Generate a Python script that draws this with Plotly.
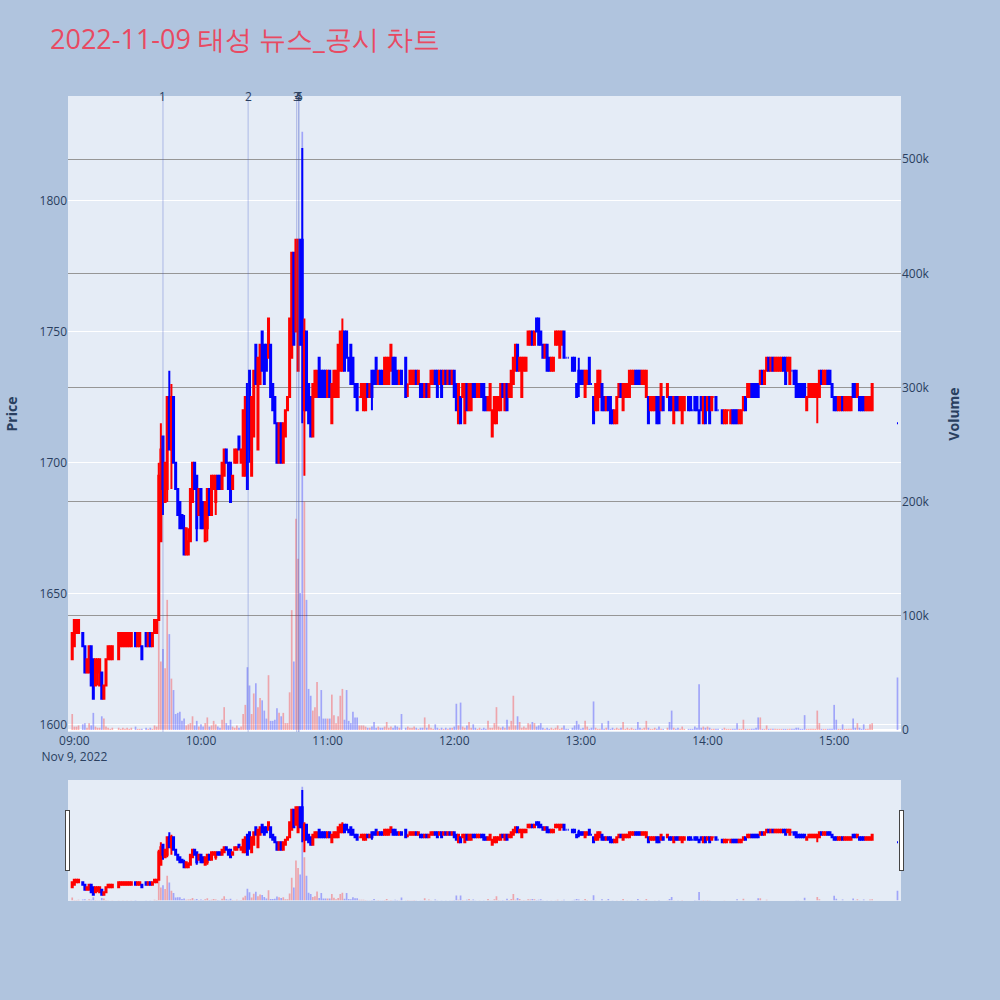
import pandas as pd
import plotly.graph_objects as go

# minutes after 09:00 for each candle
minutes = [
    -1, 0, 1, 2, 4, 5, 6, 7, 8, 9,
    10, 11, 12, 13, 14, 15, 16, 17, 18, 21,
    22, 23, 24, 25, 26, 27, 29, 30, 31, 32,
    34, 35, 36, 37, 38, 39, 40, 41, 42, 43,
    44, 45, 46, 47, 48, 49, 50, 51, 52, 53,
    54, 55, 56, 57, 58, 59, 60, 61, 62, 63,
    64, 65, 66, 67, 68, 69, 70, 71, 72, 73,
    74, 75, 76, 77, 78, 79, 80, 81, 82, 83,
    84, 85, 86, 87, 88, 89, 90, 91, 92, 93,
    94, 95, 96, 97, 98, 99, 100, 101, 102, 103,
    104, 105, 106, 107, 108, 109, 110, 111, 112, 113,
    114, 115, 116, 117, 118, 119, 120, 121, 122, 123,
    124, 125, 126, 127, 128, 129, 130, 131, 132, 133,
    134, 135, 136, 137, 138, 139, 140, 141, 142, 143,
    144, 145, 146, 147, 148, 149, 150, 151, 152, 153,
    154, 155, 157, 158, 159, 160, 161, 162, 163, 164,
    165, 166, 167, 168, 169, 170, 171, 172, 173, 174,
    175, 176, 177, 178, 179, 180, 181, 182, 183, 184,
    185, 186, 187, 188, 189, 190, 191, 192, 193, 194,
    195, 196, 197, 198, 199, 200, 201, 202, 203, 204,
    205, 206, 207, 208, 209, 210, 211, 212, 213, 214,
    215, 216, 217, 218, 219, 220, 221, 222, 223, 224,
    225, 226, 227, 228, 229, 230, 231, 232, 233, 234,
    236, 237, 238, 239, 240, 241, 242, 243, 244, 245,
    246, 247, 248, 249, 250, 251, 252, 253, 254, 255,
    256, 257, 258, 259, 260, 261, 262, 263, 264, 265,
    266, 267, 268, 269, 270, 271, 272, 273, 274, 275,
    276, 277, 278, 279, 281, 282, 283, 284, 285, 286,
    287, 288, 289, 291, 292, 293, 294, 295, 296, 297,
    298, 299, 300, 301, 302, 303, 304, 305, 307, 308,
    309, 310, 311, 312, 313, 314, 315, 316, 317, 318,
    319, 320, 321, 322, 323, 324, 325, 326, 327, 328,
    329, 330, 331, 332, 333, 334, 335, 336, 337, 338,
    339, 340, 341, 342, 343, 344, 345, 346, 347, 348,
    349, 350, 351, 352, 353, 354, 355, 356, 357, 358,
    359, 360, 361, 362, 363, 364, 365, 366, 367, 368,
    369, 370, 371, 372, 373, 374, 375, 376, 377, 378,
    390,
]

opens = [
    1625, 1630, 1635, 1635, 1635, 1630, 1620, 1620, 1630, 1625,
    1615, 1620, 1615, 1620, 1610, 1615, 1625, 1625, 1625, 1625,
    1630, 1630, 1630, 1630, 1630, 1630, 1635, 1630, 1630, 1630,
    1635, 1630, 1635, 1630, 1635, 1635, 1640, 1670, 1710, 1685,
    1690, 1725, 1705, 1725, 1700, 1690, 1685, 1680, 1675, 1665,
    1665, 1670, 1685, 1700, 1695, 1680, 1690, 1685, 1670, 1675,
    1690, 1680, 1690, 1685, 1695, 1695, 1690, 1695, 1705, 1700,
    1700, 1690, 1700, 1700, 1710, 1700, 1695, 1695, 1730, 1735,
    1695, 1710, 1745, 1705, 1730, 1750, 1745, 1745, 1740, 1745,
    1730, 1725, 1715, 1700, 1715, 1700, 1710, 1720, 1725, 1740,
    1780, 1750, 1735, 1785, 1785, 1720, 1750, 1730, 1725, 1710,
    1725, 1725, 1740, 1735, 1735, 1735, 1725, 1735, 1715, 1725,
    1725, 1725, 1735, 1735, 1750, 1750, 1740, 1745, 1740, 1730,
    1730, 1725, 1725, 1720, 1720, 1730, 1725, 1735, 1735, 1740,
    1730, 1735, 1735, 1730, 1730, 1730, 1735, 1740, 1740, 1735,
    1730, 1735, 1740, 1730, 1730, 1730, 1730, 1735, 1730, 1730,
    1730, 1725, 1730, 1725, 1730, 1730, 1735, 1735, 1730, 1735,
    1730, 1735, 1730, 1735, 1730, 1735, 1730, 1715, 1725, 1725,
    1715, 1730, 1720, 1720, 1730, 1730, 1725, 1725, 1730, 1730,
    1725, 1720, 1720, 1710, 1715, 1715, 1720, 1720, 1730, 1720,
    1730, 1725, 1725, 1730, 1735, 1745, 1735, 1725, 1735, 1735,
    1745, 1745, 1750, 1745, 1755, 1755, 1750, 1745, 1740, 1745,
    1740, 1735, 1735, 1745, 1745, 1740, 1745, 1750, 1740, 1740,
    1740, 1740, 1730, 1735, 1735, 1735, 1725, 1730, 1740, 1730,
    1725, 1720, 1720, 1725, 1730, 1725, 1720, 1725, 1725, 1720,
    1715, 1715, 1725, 1730, 1720, 1725, 1725, 1725, 1730, 1730,
    1735, 1735, 1735, 1730, 1730, 1725, 1725, 1720, 1720, 1720,
    1725, 1725, 1720, 1725, 1725, 1725, 1725, 1715, 1725, 1725,
    1720, 1715, 1720, 1725, 1725, 1720, 1725, 1725, 1720, 1725,
    1715, 1725, 1720, 1725, 1720, 1725, 1725, 1720, 1720, 1715,
    1715, 1720, 1715, 1720, 1720, 1720, 1715, 1715, 1720, 1725,
    1725, 1725, 1730, 1730, 1730, 1730, 1730, 1735, 1730, 1735,
    1740, 1735, 1740, 1735, 1735, 1735, 1735, 1740, 1740, 1735,
    1730, 1735, 1735, 1735, 1730, 1730, 1730, 1730, 1720, 1725,
    1725, 1725, 1725, 1725, 1725, 1735, 1730, 1730, 1735, 1735,
    1730, 1725, 1725, 1720, 1720, 1725, 1720, 1720, 1720, 1720,
    1730, 1730, 1725, 1725, 1725, 1725, 1720, 1720, 1720, 1720,
    1715,
]

highs = [
    1635, 1640, 1640, 1640, 1635, 1630, 1625, 1630, 1630, 1625,
    1625, 1625, 1625, 1620, 1615, 1625, 1630, 1630, 1630, 1635,
    1635, 1635, 1635, 1635, 1635, 1635, 1635, 1635, 1635, 1630,
    1635, 1635, 1635, 1635, 1640, 1640, 1700, 1715, 1710, 1700,
    1725, 1735, 1730, 1725, 1700, 1690, 1685, 1680, 1680, 1675,
    1675, 1690, 1700, 1700, 1695, 1690, 1690, 1685, 1685, 1690,
    1690, 1695, 1695, 1695, 1695, 1695, 1700, 1705, 1705, 1700,
    1700, 1695, 1705, 1705, 1710, 1705, 1720, 1725, 1730, 1735,
    1725, 1735, 1745, 1740, 1745, 1750, 1745, 1745, 1755, 1745,
    1730, 1725, 1715, 1715, 1715, 1715, 1720, 1725, 1755, 1780,
    1780, 1785, 1785, 1785, 1820, 1755, 1750, 1730, 1725, 1730,
    1735, 1735, 1740, 1735, 1735, 1735, 1735, 1735, 1730, 1735,
    1735, 1745, 1750, 1755, 1750, 1750, 1740, 1745, 1740, 1730,
    1730, 1725, 1730, 1730, 1730, 1730, 1730, 1735, 1735, 1740,
    1735, 1735, 1735, 1740, 1740, 1740, 1745, 1740, 1740, 1735,
    1735, 1735, 1740, 1730, 1735, 1735, 1735, 1735, 1735, 1730,
    1730, 1730, 1730, 1730, 1735, 1735, 1735, 1735, 1735, 1735,
    1735, 1735, 1735, 1735, 1735, 1735, 1730, 1730, 1725, 1730,
    1730, 1730, 1730, 1730, 1730, 1730, 1730, 1730, 1730, 1730,
    1725, 1725, 1730, 1720, 1725, 1725, 1725, 1730, 1730, 1730,
    1730, 1730, 1735, 1740, 1745, 1745, 1740, 1740, 1740, 1740,
    1750, 1750, 1750, 1750, 1755, 1755, 1750, 1745, 1745, 1745,
    1740, 1740, 1740, 1750, 1750, 1750, 1750, 1750, 1740, 1740,
    1740, 1740, 1730, 1740, 1735, 1735, 1735, 1735, 1740, 1730,
    1725, 1730, 1735, 1735, 1730, 1725, 1725, 1725, 1725, 1720,
    1720, 1725, 1730, 1730, 1730, 1730, 1730, 1735, 1735, 1735,
    1735, 1735, 1735, 1735, 1735, 1735, 1725, 1725, 1725, 1725,
    1725, 1725, 1730, 1725, 1730, 1725, 1725, 1725, 1725, 1725,
    1725, 1725, 1725, 1725, 1725, 1720, 1725, 1725, 1720, 1725,
    1725, 1725, 1725, 1725, 1725, 1725, 1725, 1720, 1720, 1720,
    1720, 1720, 1720, 1720, 1720, 1720, 1720, 1720, 1725, 1725,
    1730, 1730, 1730, 1730, 1730, 1730, 1735, 1735, 1735, 1740,
    1740, 1740, 1740, 1740, 1740, 1740, 1740, 1740, 1740, 1740,
    1740, 1735, 1735, 1735, 1730, 1730, 1730, 1730, 1725, 1730,
    1730, 1730, 1730, 1730, 1735, 1735, 1735, 1735, 1735, 1735,
    1730, 1725, 1725, 1725, 1725, 1725, 1725, 1725, 1725, 1725,
    1730, 1730, 1730, 1725, 1725, 1725, 1725, 1725, 1725, 1730,
    1715,
]

lows = [
    1625, 1630, 1635, 1635, 1630, 1620, 1620, 1620, 1615, 1610,
    1615, 1615, 1615, 1610, 1610, 1615, 1625, 1625, 1625, 1625,
    1630, 1630, 1630, 1630, 1630, 1630, 1630, 1630, 1630, 1625,
    1630, 1630, 1630, 1630, 1635, 1635, 1640, 1670, 1680, 1685,
    1685, 1705, 1690, 1700, 1690, 1680, 1675, 1675, 1665, 1665,
    1665, 1670, 1685, 1690, 1670, 1680, 1675, 1675, 1670, 1670,
    1680, 1680, 1690, 1680, 1690, 1690, 1690, 1695, 1700, 1690,
    1685, 1690, 1700, 1700, 1705, 1700, 1695, 1695, 1690, 1700,
    1695, 1710, 1730, 1705, 1730, 1735, 1730, 1735, 1740, 1725,
    1720, 1715, 1700, 1700, 1700, 1700, 1710, 1720, 1725, 1740,
    1745, 1750, 1735, 1745, 1715, 1695, 1720, 1715, 1710, 1710,
    1725, 1725, 1725, 1725, 1725, 1725, 1725, 1725, 1715, 1725,
    1725, 1725, 1735, 1735, 1735, 1740, 1735, 1730, 1730, 1725,
    1720, 1725, 1725, 1720, 1720, 1725, 1725, 1720, 1730, 1730,
    1730, 1730, 1730, 1730, 1730, 1730, 1735, 1730, 1730, 1730,
    1730, 1730, 1725, 1725, 1730, 1730, 1730, 1730, 1730, 1725,
    1725, 1725, 1725, 1725, 1730, 1730, 1730, 1725, 1730, 1725,
    1730, 1730, 1730, 1730, 1730, 1725, 1720, 1715, 1715, 1725,
    1715, 1720, 1720, 1720, 1725, 1725, 1725, 1725, 1725, 1720,
    1720, 1720, 1720, 1710, 1715, 1715, 1720, 1720, 1725, 1720,
    1720, 1725, 1725, 1730, 1735, 1735, 1735, 1725, 1735, 1735,
    1745, 1745, 1745, 1745, 1750, 1745, 1745, 1740, 1740, 1735,
    1735, 1735, 1735, 1745, 1745, 1740, 1745, 1740, 1740, 1740,
    1735, 1735, 1725, 1725, 1730, 1730, 1725, 1730, 1730, 1730,
    1715, 1720, 1720, 1725, 1720, 1720, 1720, 1720, 1715, 1715,
    1715, 1715, 1725, 1725, 1720, 1725, 1725, 1725, 1730, 1730,
    1730, 1730, 1730, 1730, 1730, 1725, 1715, 1720, 1720, 1720,
    1715, 1715, 1720, 1720, 1725, 1720, 1720, 1715, 1720, 1720,
    1720, 1715, 1720, 1720, 1720, 1720, 1720, 1720, 1715, 1720,
    1715, 1715, 1720, 1715, 1720, 1725, 1720, 1720, 1715, 1715,
    1715, 1720, 1715, 1715, 1715, 1715, 1715, 1715, 1720, 1720,
    1725, 1725, 1725, 1725, 1725, 1725, 1730, 1730, 1730, 1735,
    1735, 1735, 1735, 1735, 1735, 1735, 1735, 1735, 1730, 1735,
    1730, 1735, 1730, 1725, 1725, 1725, 1725, 1725, 1720, 1725,
    1725, 1725, 1725, 1715, 1725, 1730, 1730, 1730, 1730, 1730,
    1725, 1720, 1720, 1720, 1720, 1720, 1720, 1720, 1720, 1720,
    1725, 1725, 1725, 1720, 1720, 1720, 1720, 1720, 1720, 1720,
    1715,
]

closes = [
    1635, 1640, 1640, 1640, 1630, 1620, 1625, 1630, 1615, 1610,
    1625, 1625, 1625, 1610, 1615, 1625, 1630, 1630, 1630, 1635,
    1635, 1635, 1635, 1635, 1635, 1635, 1630, 1635, 1635, 1625,
    1630, 1635, 1630, 1635, 1640, 1640, 1695, 1705, 1690, 1700,
    1725, 1705, 1725, 1700, 1690, 1680, 1675, 1675, 1665, 1675,
    1670, 1690, 1700, 1690, 1675, 1690, 1675, 1675, 1685, 1690,
    1680, 1695, 1695, 1695, 1690, 1690, 1700, 1705, 1700, 1690,
    1685, 1695, 1705, 1705, 1705, 1705, 1720, 1725, 1690, 1705,
    1725, 1735, 1730, 1740, 1745, 1735, 1730, 1735, 1755, 1725,
    1720, 1715, 1700, 1715, 1700, 1715, 1720, 1725, 1755, 1780,
    1745, 1785, 1785, 1745, 1745, 1750, 1720, 1715, 1710, 1730,
    1735, 1735, 1725, 1725, 1725, 1725, 1735, 1725, 1730, 1735,
    1735, 1745, 1750, 1750, 1735, 1740, 1735, 1730, 1730, 1725,
    1720, 1725, 1730, 1730, 1730, 1725, 1730, 1725, 1730, 1730,
    1735, 1730, 1730, 1740, 1740, 1740, 1745, 1730, 1730, 1730,
    1735, 1730, 1725, 1730, 1735, 1735, 1735, 1730, 1735, 1725,
    1725, 1730, 1725, 1730, 1735, 1735, 1730, 1725, 1735, 1725,
    1735, 1730, 1735, 1730, 1735, 1725, 1720, 1730, 1715, 1730,
    1730, 1720, 1730, 1730, 1725, 1725, 1730, 1730, 1725, 1720,
    1720, 1725, 1730, 1720, 1725, 1725, 1725, 1730, 1725, 1730,
    1720, 1730, 1735, 1740, 1745, 1735, 1740, 1740, 1740, 1740,
    1750, 1750, 1745, 1750, 1750, 1745, 1745, 1740, 1745, 1735,
    1735, 1740, 1740, 1750, 1750, 1750, 1750, 1740, 1740, 1740,
    1735, 1735, 1725, 1730, 1730, 1730, 1735, 1735, 1730, 1730,
    1715, 1730, 1735, 1735, 1720, 1720, 1725, 1720, 1715, 1715,
    1720, 1725, 1730, 1725, 1730, 1730, 1730, 1735, 1735, 1735,
    1730, 1730, 1730, 1735, 1735, 1735, 1715, 1725, 1725, 1725,
    1715, 1715, 1730, 1720, 1730, 1720, 1720, 1725, 1720, 1720,
    1725, 1725, 1725, 1720, 1720, 1720, 1720, 1720, 1715, 1720,
    1725, 1715, 1725, 1715, 1725, 1725, 1720, 1720, 1715, 1720,
    1720, 1720, 1720, 1715, 1715, 1715, 1720, 1720, 1725, 1720,
    1730, 1730, 1725, 1725, 1725, 1725, 1735, 1730, 1735, 1740,
    1735, 1740, 1735, 1740, 1740, 1740, 1740, 1735, 1730, 1740,
    1740, 1735, 1730, 1725, 1725, 1725, 1725, 1725, 1725, 1730,
    1730, 1730, 1730, 1730, 1735, 1730, 1735, 1735, 1730, 1730,
    1725, 1720, 1720, 1725, 1725, 1720, 1725, 1725, 1725, 1725,
    1725, 1725, 1730, 1720, 1720, 1720, 1725, 1725, 1725, 1730,
    1715,
]

# traded volume, thousands of shares
volume_k = [
    14, 3, 3, 4, 5, 6, 2, 6, 4, 15,
    3, 2, 2, 12, 10, 3, 2, 1, 2, 2,
    1, 2, 1, 2, 1, 2, 3, 1, 1, 1,
    2, 1, 2, 1, 4, 3, 145, 60, 71, 54,
    114, 84, 45, 35, 14, 15, 16, 8, 10, 4,
    5, 6, 12, 4, 8, 3, 5, 3, 6, 11,
    3, 4, 8, 5, 3, 2, 9, 20, 6, 4,
    9, 3, 2, 4, 2, 3, 14, 22, 55, 39,
    14, 32, 41, 20, 28, 26, 17, 10, 48, 8,
    8, 9, 19, 15, 12, 15, 6, 6, 33, 105,
    60, 185, 150, 120, 524, 200, 114, 36, 30, 17,
    20, 42, 12, 35, 10, 10, 10, 10, 31, 13,
    6, 12, 30, 36, 9, 35, 8, 6, 16, 11,
    11, 4, 4, 4, 3, 2, 2, 3, 7, 2,
    3, 2, 2, 3, 7, 2, 3, 2, 4, 3,
    2, 14, 2, 3, 2, 2, 3, 2, 1, 2,
    2, 11, 2, 5, 2, 1, 5, 2, 1, 2,
    1, 2, 1, 2, 2, 3, 23, 4, 24, 3,
    2, 4, 7, 2, 5, 2, 1, 2, 1, 2,
    1, 8, 2, 2, 6, 20, 3, 2, 3, 2,
    9, 3, 8, 30, 4, 12, 7, 2, 3, 2,
    6, 5, 7, 6, 3, 4, 6, 2, 1, 2,
    1, 2, 1, 2, 4, 1, 2, 4, 1, 1,
    2, 4, 8, 5, 1, 2, 8, 3, 1, 2,
    25, 2, 1, 1, 6, 1, 2, 8, 1, 2,
    1, 2, 1, 2, 7, 1, 2, 1, 2, 1,
    1, 7, 2, 1, 2, 8, 2, 1, 1, 2,
    1, 3, 1, 1, 2, 7, 17, 2, 1, 2,
    1, 3, 1, 1, 1, 1, 3, 2, 40, 2,
    3, 2, 3, 2, 1, 1, 1, 1, 1, 2,
    1, 1, 1, 1, 1, 6, 1, 1, 9, 1,
    1, 1, 1, 1, 2, 11, 11, 1, 1, 4,
    1, 1, 1, 1, 1, 1, 1, 1, 1, 1,
    1, 1, 1, 2, 2, 1, 1, 13, 1, 1,
    1, 1, 1, 17, 6, 1, 1, 1, 1, 1,
    1, 22, 9, 1, 1, 5, 1, 1, 1, 1,
    10, 2, 6, 2, 1, 5, 1, 1, 5, 6,
    46,
]

# news / disclosure markers
event_labels = ["1", "2", "3", "4", "5"]
event_times = ["2022-11-09 09:42:00", "2022-11-09 10:22:20", "2022-11-09 10:45:20",
               "2022-11-09 10:46:10", "2022-11-09 10:46:30"]

title_text = "2022-11-09 태성 뉴스_공시 차트"

# ---------------------------------------------------------------
times = pd.Timestamp("2022-11-09 09:00:00") + pd.to_timedelta(minutes, unit="min")
volumes = [v * 1000 for v in volume_k]

bar_colors = []
prev_c = None
up = False
for o, c in zip(opens, closes):
    if c > o:
        up = True
    elif c < o:
        up = False
    elif prev_c is not None and c != prev_c:
        up = c > prev_c
    bar_colors.append("rgba(255,0,0,0.3)" if up else "rgba(0,0,255,0.3)")
    prev_c = c

fig = go.Figure()

fig.add_trace(
    go.Candlestick(
        x=times, open=opens, high=highs, low=lows, close=closes,
        increasing=dict(line=dict(color="red"), fillcolor="red"),
        decreasing=dict(line=dict(color="blue"), fillcolor="blue"),
        name="Price", showlegend=False, yaxis="y",
    )
)

fig.add_trace(
    go.Bar(x=times, y=volumes, marker=dict(color=bar_colors, line=dict(width=0)),
           name="Volume", showlegend=False, yaxis="y2")
)

for lab, t in zip(event_labels, event_times):
    fig.add_shape(type="line", xref="x", yref="paper", x0=t, x1=t, y0=0, y1=1,
                  line=dict(color="rgba(70,90,200,0.35)", width=1))
    fig.add_annotation(x=t, xref="x", y=1, yref="paper", text=lab, showarrow=False,
                       yanchor="middle", xanchor="center",
                       font=dict(size=12, color="#2a3f5f"))

fig.update_layout(
    width=1000, height=1000,
    paper_bgcolor="lightsteelblue",
    margin=dict(l=68, r=99, t=96, b=100),
    title=dict(text=title_text, x=0.05, xanchor="left", y=0.96, yanchor="middle",
               font=dict(size=27, color="#e84a62")),
    showlegend=False,
    bargap=0.2,
    xaxis=dict(
        type="date", domain=[0, 1],
        range=["2022-11-09 08:57:00", "2022-11-09 15:31:40"],
        rangeslider=dict(visible=True, thickness=0.15,
                         range=["2022-11-09 08:57:00", "2022-11-09 15:31:40"]),
    ),
    yaxis=dict(title=dict(text="<b>Price</b>", standoff=18), range=[1597.3, 1839.8],
               side="left"),
    yaxis2=dict(title=dict(text="<b>Volume</b>", standoff=20), range=[-1760, 555400],
                overlaying="y", side="right", showgrid=True,
                gridcolor="rgb(150,150,150)"),
)

fig.write_html("out.html", config={"displayModeBar": False},
               post_script="document.body.style.margin='0';")
